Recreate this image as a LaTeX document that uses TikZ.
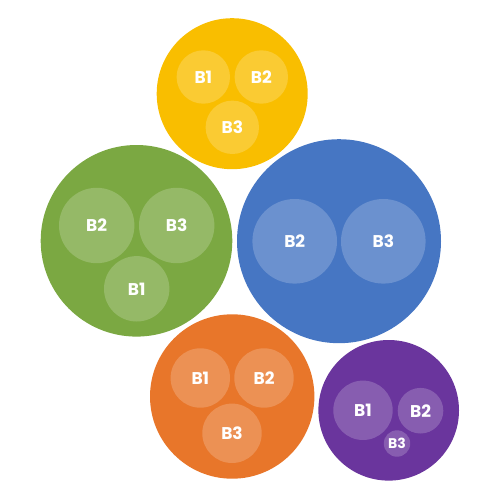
\documentclass[tikz,border=0pt]{standalone}
\usepackage{fontspec}
\setmainfont{Poppins}[UprightFont=* Bold, BoldFont=* Bold]
\definecolor{cyellow}{HTML}{F9BE00}
\definecolor{cgreen}{HTML}{7BA842}
\definecolor{cblue}{HTML}{4676C3}
\definecolor{corange}{HTML}{E8762A}
\definecolor{cpurple}{HTML}{6A359D}
\tikzset{
  outer/.style={circle, inner sep=0pt, outer sep=0pt, draw=none},
  inner/.style={circle, inner sep=0pt, outer sep=0pt, draw=none, fill=white, fill opacity=0.2, text opacity=1, text=white, font=\fontsize{17}{17}\selectfont},
  smalltxt/.style={font=\fontsize{14}{14}\selectfont}
}
\begin{document}
\begin{tikzpicture}[x=1pt,y=-1pt]
\useasboundingbox (0,0) rectangle (500,500);
% yellow
\node[outer, fill=cyellow, minimum size=151pt] (Y) at (232.2,93.7) {};
\node[inner, minimum size=53.4pt] (Y1) at (203.3,77) {B1};
\node[inner, minimum size=53.4pt] (Y2) at (261.3,77) {B2};
\node[inner, minimum size=53.4pt] (Y3) at (232.3,127.3) {B3};
% green
\node[outer, fill=cgreen, minimum size=191.6pt] (G) at (136.5,240.8) {};
\node[inner, minimum size=75.4pt] (G2) at (96.7,225.5) {B2};
\node[inner, minimum size=75.4pt] (G3) at (176.7,225.5) {B3};
\node[inner, minimum size=65.4pt] (G1) at (136.7,288.8) {B1};
% blue
\node[outer, fill=cblue, minimum size=204pt] (Bl) at (339,241.2) {};
\node[inner, minimum size=84.6pt] (Bl2) at (294.7,241.3) {B2};
\node[inner, minimum size=84.6pt] (Bl3) at (383.3,241.3) {B3};
% orange
\node[outer, fill=corange, minimum size=164.4pt] (O) at (232.2,396.5) {};
\node[inner, minimum size=59.4pt] (O1) at (200.3,378) {B1};
\node[inner, minimum size=59.4pt] (O2) at (264,378) {B2};
\node[inner, minimum size=59.4pt] (O3) at (232,433.3) {B3};
% purple
\node[outer, fill=cpurple, minimum size=140.6pt] (P) at (388.7,410.3) {};
\node[inner, minimum size=59.4pt] (P1) at (363,410.3) {B1};
\node[inner, minimum size=45.6pt] (P2) at (420.5,410.7) {B2};
\node[inner, smalltxt, minimum size=26.4pt] (P3) at (397,443.5) {B3};
\end{tikzpicture}
\end{document}
